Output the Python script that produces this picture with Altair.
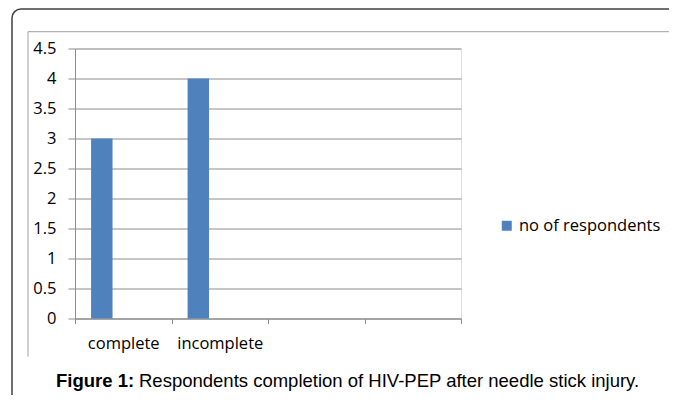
import altair as alt
import pandas as pd

# ---- data ----
categories = ["complete", "incomplete", "cat3", "cat4"]
bar_categories = ["complete", "incomplete"]
values = [3, 4]
series_names = ["no of respondents", "series 2", "series 3"]
y_ticks = [0, 0.5, 1, 1.5, 2, 2.5, 3, 3.5, 4, 4.5]
caption_bold = ["Figure 1:"]
caption_rest = ["Respondents completion of HIV-PEP after needle stick injury."]

df = pd.DataFrame({"category": bar_categories,
                   "series": [series_names[0]] * len(values),
                   "value": values})

W, H = 386, 270
LABEL_FONT = "Open Sans"
LABEL_SIZE = 16.5
GRID = "#8c8c8c"
BLUE = "#4f81bd"

one = pd.DataFrame({"d": [0]})

outer = alt.Chart(one).mark_rect(fillOpacity=0, stroke="#404040", strokeWidth=1.5,
                                 cornerRadius=9).encode(
    x=alt.value(-63), x2=alt.value(1500), y=alt.value(-39.5), y2=alt.value(1500))

inner_top = alt.Chart(one).mark_rule(color="#a0a0a0", strokeWidth=1).encode(
    x=alt.value(-47), x2=alt.value(720), y=alt.value(-16.8))
inner_left = alt.Chart(one).mark_rule(color="#a0a0a0", strokeWidth=1).encode(
    x=alt.value(-47), y=alt.value(-16.8), y2=alt.value(308))

bars = alt.Chart(df).mark_bar().encode(
    x=alt.X("category:N",
            scale=alt.Scale(domain=categories, paddingInner=0, paddingOuter=0),
            axis=alt.Axis(title=None, grid=False, tickBand="extent",
                          labelExpr="datum.value == 'cat3' || datum.value == 'cat4' ? '' : datum.value",
                          labelAngle=0, tickSize=5, tickColor=GRID, domainColor=GRID,
                          labelPadding=12, labelFont=LABEL_FONT, labelFontSize=LABEL_SIZE,
                          labelColor="#000000")),
    xOffset=alt.XOffset("series:N",
                        scale=alt.Scale(domain=series_names, paddingInner=0, paddingOuter=0.75)),
    y=alt.Y("value:Q",
            scale=alt.Scale(domain=[0, 4.5], nice=False),
            axis=alt.Axis(title=None, values=y_ticks, format=".1~f", grid=True,
                          gridColor=GRID, tickColor=GRID, domainColor=GRID, tickSize=7,
                          labelPadding=12, labelFont=LABEL_FONT, labelFontSize=LABEL_SIZE,
                          labelColor="#000000")),
    color=alt.Color("series:N",
                    scale=alt.Scale(domain=[series_names[0]], range=[BLUE]),
                    legend=alt.Legend(title=None, orient="none", legendX=423.5, legendY=169,
                                      padding=0, symbolType="square", symbolSize=100,
                                      symbolStrokeWidth=0, labelOffset=4,
                                      labelFont=LABEL_FONT, labelFontSize=LABEL_SIZE,
                                      labelColor="#000000")),
)

cap1 = alt.Chart(pd.DataFrame({"t": caption_bold})).mark_text(
    align="left", baseline="alphabetic", font="Liberation Sans", fontSize=18.5,
    fontWeight="bold", color="#000000").encode(
    x=alt.value(-19), y=alt.value(338.5), text="t:N")

cap2 = alt.Chart(pd.DataFrame({"t": caption_rest})).mark_text(
    align="left", baseline="alphabetic", font="Liberation Sans", fontSize=18.5,
    color="#000000").encode(
    x=alt.value(64), y=alt.value(338.5), text="t:N")

chart = alt.layer(outer, inner_top, inner_left, bars, cap1, cap2).properties(
    width=W, height=H,
    autosize=alt.AutoSizeParams(type="none"),
    padding={"left": 67, "top": 40.5, "right": 208, "bottom": 76.5},
).configure_view(stroke=None).configure(background="white")

chart.save("out.html", embed_options={"renderer": "svg", "actions": False})
